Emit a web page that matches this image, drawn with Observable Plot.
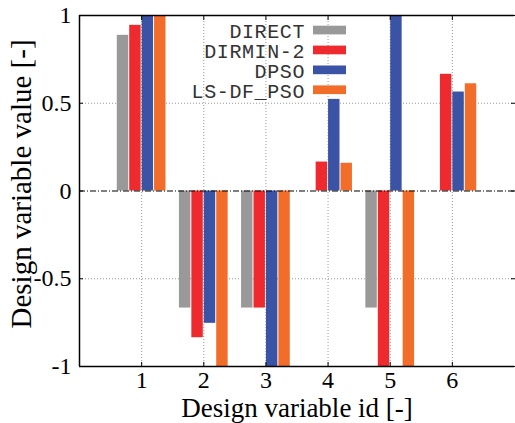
<!DOCTYPE html>
<html><head><meta charset="utf-8">
<script src="https://cdn.jsdelivr.net/npm/d3@7"></script>
<script src="https://cdn.jsdelivr.net/npm/@observablehq/plot@0.6"></script>
<style>body{margin:0;background:#fff}</style>
</head><body><div id="chart"></div>
<script>
const ids = [1, 2, 3, 4, 5, 6];
const series = ["DIRECT", "DIRMIN-2", "DPSO", "LS-DF_PSO"];
const colors = ["#999999", "#ee2a2e", "#3a53a4", "#f36d2a"];
const direct  = [0.887, -0.667, -0.667, 0,     -0.667, 0];
const dirmin2 = [0.944, -0.836, -0.667, 0.165, -1,     0.665];
const dpso    = [1,     -0.754, -1,     0.522,  1,     0.564];
const lsdfpso = [1,     -1,     -1,     0.158, -1,     0.611];
const xTicks = [1, 2, 3, 4, 5, 6];
const yTicks = [-1, -0.5, 0, 0.5, 1];
const xLabel = "Design variable id [-]";
const yLabel = "Design variable value [-]";

const values = [direct, dirmin2, dpso, lsdfpso];
const rows = [];
series.forEach((s, k) => ids.forEach((id, i) => rows.push({id, k, series: s, value: values[k][i]})));

const barW = 0.2;
const plot = Plot.plot({
  width: 515, height: 423,
  marginLeft: 79, marginRight: 1, marginTop: 15, marginBottom: 57,
  x: {domain: [0, 7]},
  y: {domain: [-1, 1]},
  style: {fontFamily: "'Liberation Serif', 'Times New Roman', serif", fontSize: "24px", color: "#000", background: "#fff"},
  marks: [
    Plot.gridX(xTicks, {stroke: "#999", strokeOpacity: 1, strokeDasharray: "1,2"}),
    Plot.gridY([-0.5, 0.5], {stroke: "#999", strokeOpacity: 1, strokeDasharray: "1,2"}),
    Plot.rectY(rows, {
      x1: d => d.id - 2 * barW + d.k * barW,
      x2: d => d.id - 2 * barW + (d.k + 1) * barW,
      y1: 0, y2: "value",
      fill: d => colors[d.k],
      insetLeft: 0.5, insetRight: 0.5
    }),
    Plot.ruleY([0], {stroke: "#000", strokeWidth: 1, strokeDasharray: "6,2,1,2"}),
    Plot.axisX(xTicks, {anchor: "bottom", tickSize: -4, tickPadding: 8, tickFormat: d => String(d), label: null, fontSize: 24}),
    Plot.axisX(xTicks, {anchor: "top", tickSize: -4, fill: "none", label: null}),
    Plot.axisY(yTicks, {anchor: "left", tickSize: -4, tickPadding: 12, tickFormat: d => String(d), label: null, fontSize: 24}),
    Plot.axisY(yTicks, {anchor: "right", tickSize: -4, fill: "none", label: null}),
    Plot.ruleX([0], {stroke: "#000", strokeWidth: 1.5}),
    Plot.ruleY([-1, 1], {stroke: "#000", strokeWidth: 1.5}),
    Plot.text([xLabel], {frameAnchor: "bottom", textAnchor: "middle", lineAnchor: "middle", dy: 42, fontSize: 27, text: d => d}),
    Plot.text([yLabel], {frameAnchor: "left", textAnchor: "middle", lineAnchor: "middle", rotate: -90, dx: -58, dy: -7, fontSize: 29, text: d => d})
  ]
});

const svg = d3.select(plot);
const lg = svg.append("g")
  .attr("font-family", "'Liberation Mono', 'Courier New', monospace")
  .attr("font-size", 20)
  .attr("letter-spacing", "0.6px")
  .attr("fill", "#333");
series.forEach((s, i) => {
  lg.append("text").attr("x", 305).attr("y", 31 + i * 19.9).attr("dy", "0.35em")
    .attr("text-anchor", "end").text(s);
  lg.append("rect").attr("x", 313).attr("y", 25.7 + i * 19.9).attr("width", 33).attr("height", 8.7)
    .attr("fill", colors[i]);
});

document.getElementById("chart").appendChild(plot);
</script>
</body></html>
